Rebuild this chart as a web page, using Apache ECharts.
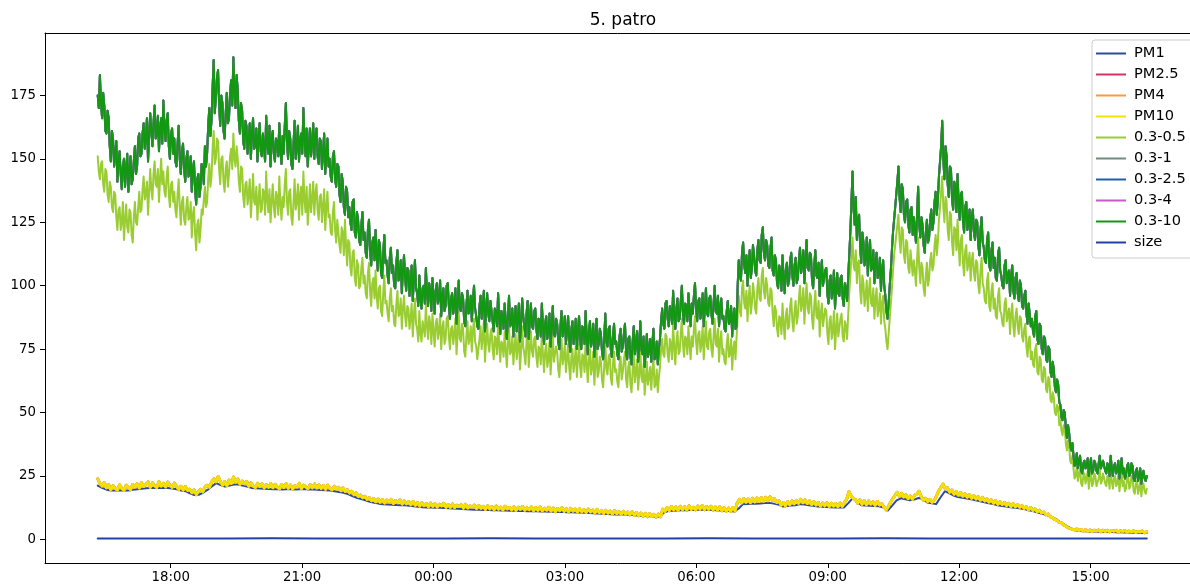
<!DOCTYPE html>
<html><head><meta charset="utf-8">
<script src="https://cdn.jsdelivr.net/npm/echarts@6/dist/echarts.min.js"></script>
<style>html,body{margin:0;padding:0;background:#fff}#c{width:1190px;height:586px}</style>
</head><body><div id="c"></div>
<script>
const chartTitle = '5. patro';
const seriesNames = ['PM1','PM2.5','PM4','PM10','0.3-0.5','0.3-1','0.3-2.5','0.3-4','0.3-10','size'];
// time span of the record, in hours counted from midnight of day 1
const startHour = 16 + 20/60;
const endHour = 40 + 17/60;
const xTickHours = [18,21,24,27,30,33,36,39];
const xTickLabels = ['18:00','21:00','00:00','03:00','06:00','09:00','12:00','15:00'];
const yTicks = [0,25,50,75,100,125,150,175];

const pc03_10 = [
175,170,183,172,166,176,171,161,160,169,166,155,149,161,158,147,152,157,141,149,153,144,138,147,150,139,146,152,137,145,151,140,142,149,155,144,147,158,160,151,
152,160,164,154,158,166,149,159,168,161,155,164,171,158,160,167,153,162,166,156,173,163,157,165,168,155,150,160,162,152,158,149,147,156,163,150,144,153,156,146,
141,150,153,143,145,151,137,146,149,138,132,142,144,135,139,148,146,140,155,147,152,163,170,159,165,178,189,168,174,182,185,171,163,175,172,161,158,168,176,164,
166,176,181,171,190,177,170,183,177,165,160,172,169,157,154,165,163,152,158,164,150,160,166,154,155,162,149,158,164,153,151,160,160,149,167,156,152,163,147,158,
161,152,149,158,157,151,164,153,148,159,152,163,172,157,150,161,158,148,146,156,165,150,155,163,149,157,160,152,170,158,151,162,147,155,162,151,156,164,150,159,
162,151,148,158,157,146,153,160,144,152,158,147,150,143,141,151,153,142,139,148,147,136,133,144,141,131,128,139,137,127,131,125,122,133,134,121,119,129,126,118,
116,124,129,118,121,113,111,122,126,114,108,117,119,110,122,112,106,118,116,105,103,113,120,109,110,104,101,111,115,105,108,100,99,109,114,102,104,110,97,106,
112,103,98,107,106,96,101,108,94,102,110,99,97,92,104,95,91,99,100,93,107,97,92,101,98,90,103,96,89,98,101,93,95,102,88,96,99,90,92,100,
101,92,87,95,97,89,93,99,85,93,102,91,90,97,95,86,84,92,98,89,91,96,86,94,100,91,88,84,83,92,96,87,92,98,82,90,97,89,86,94,
94,86,82,91,90,84,97,88,81,90,88,83,93,86,79,88,96,84,85,91,80,87,92,82,87,93,78,85,95,88,84,80,89,94,79,86,93,84,83,90,
91,83,79,87,86,80,93,84,77,85,88,79,82,89,76,84,92,81,80,87,85,78,75,84,90,80,83,88,77,82,88,79,74,83,86,77,81,87,75,82,
88,79,75,84,83,77,90,80,73,82,86,76,79,85,72,80,87,75,77,83,81,74,71,79,89,78,76,83,84,75,72,80,85,77,78,73,71,80,83,74,
76,81,85,74,71,79,80,72,69,78,84,73,77,82,70,76,86,75,73,80,68,74,81,72,75,79,70,77,83,71,72,78,69,75,79,86,91,85,83,93,
94,87,84,92,90,85,98,88,83,91,95,86,87,94,100,89,85,93,92,86,97,90,84,93,89,96,101,91,86,94,95,87,90,97,84,91,99,89,88,95,
96,89,85,93,100,90,89,96,84,91,95,87,88,83,82,90,94,85,86,92,80,88,91,83,84,100,110,104,102,113,117,108,105,112,100,109,114,103,107,116,
112,106,104,114,118,110,109,120,123,113,110,118,116,108,107,115,119,106,104,112,110,101,99,108,106,98,112,103,97,106,109,100,102,110,113,104,100,108,111,101,
103,110,115,105,108,114,101,110,118,107,106,113,112,102,99,108,114,104,103,109,96,105,110,100,100,106,107,97,93,102,104,95,98,106,91,99,105,97,96,103,
104,95,92,101,99,94,103,112,121,133,145,130,124,135,118,126,128,115,109,121,117,108,111,119,104,113,118,106,107,114,101,109,113,103,105,111,98,106,110,100,
96,90,87,93,100,106,114,121,126,131,136,141,147,135,129,140,138,128,125,133,134,124,121,130,131,120,127,122,117,128,139,124,119,127,124,116,113,121,126,117,
119,126,130,122,125,133,137,128,134,143,149,155,165,150,142,155,151,140,135,147,146,134,130,141,139,129,144,133,126,136,137,125,121,131,133,122,125,130,118,127,
130,121,118,126,125,116,112,122,127,117,115,110,109,118,121,108,106,114,117,107,111,103,102,112,115,106,104,100,99,108,110,101,101,106,96,104,108,98,95,103,
105,97,94,102,100,92,91,96,98,89,85,93,93,84,87,82,80,88,90,79,77,85,84,75,73,80,79,71,70,76,75,66,64,70,67,60,58,63,61,54,
53,48,47,51,50,44,40,45,42,37,35,38,33,29,30,34,28,31,33,27,26,30,31,28,29,32,25,29,32,26,27,31,30,27,26,30,33,28,28,31,
31,27,26,30,29,25,33,28,25,29,30,26,27,31,24,28,32,26,28,24,25,29,30,25,26,30,29,24,23,27,28,23,25,28,22,26,27,24,23,25
];
const pc03_05 = [
151,145,142,148,149,140,137,146,145,136,133,141,139,131,129,137,136,127,122,130,131,122,125,133,118,126,132,123,121,130,129,120,117,127,133,125,124,131,137,129,
130,138,143,134,136,141,128,137,146,138,134,144,149,140,139,146,133,142,150,140,145,137,135,143,147,136,131,140,141,133,137,130,127,136,142,131,124,133,135,126,
124,131,135,126,127,133,119,128,131,121,114,124,126,117,122,130,128,134,139,131,133,142,148,139,143,154,161,148,150,158,157,146,140,150,151,141,137,146,149,139,
144,151,154,146,160,150,147,155,150,141,137,147,146,135,131,140,141,132,136,142,127,135,144,133,132,139,126,134,140,129,130,138,137,128,145,134,129,138,125,133,
140,131,127,137,135,128,143,132,126,135,131,140,146,133,128,137,138,127,124,133,142,130,133,140,126,136,139,128,145,134,129,139,124,131,140,129,134,141,128,136,
140,130,126,135,136,125,131,138,122,131,137,127,128,121,120,129,133,122,117,126,126,116,113,123,121,112,126,116,108,118,117,107,104,113,114,103,100,110,108,99,
100,107,111,101,104,97,95,105,109,98,92,101,103,95,106,96,91,99,100,90,88,97,104,93,94,89,86,95,99,90,92,85,84,93,98,88,89,95,83,91,
96,88,84,92,91,83,87,93,80,88,95,85,83,78,90,81,78,86,86,80,93,84,79,88,85,77,89,82,76,85,87,79,82,89,75,83,86,77,79,87,
88,80,75,83,84,77,81,87,73,81,90,79,78,85,83,74,72,80,86,77,79,84,74,82,87,78,76,71,71,79,84,75,80,86,70,78,85,77,74,81,
83,75,71,80,79,73,85,77,70,78,77,72,82,75,68,77,84,73,74,80,69,76,81,71,76,82,67,74,84,76,73,69,78,83,68,75,82,74,72,79,
80,72,68,76,75,69,82,73,66,74,77,68,71,78,65,73,81,70,70,76,74,67,64,72,79,69,72,77,66,71,77,68,63,72,75,66,70,76,64,71,
77,68,64,73,72,66,79,69,62,71,75,65,68,74,61,69,76,64,66,72,70,63,60,68,78,67,65,72,73,64,61,69,74,66,67,62,60,69,72,63,
66,71,74,63,60,68,70,61,58,67,73,62,66,71,59,65,75,64,62,69,57,63,70,61,64,68,59,66,72,60,61,67,58,64,68,75,79,73,72,81,
80,73,70,79,77,71,85,76,69,78,82,73,74,81,87,77,72,80,79,73,84,77,71,80,76,83,88,78,73,81,82,74,77,84,71,79,86,76,75,82,
83,75,72,80,87,77,76,83,70,78,82,73,75,70,69,77,81,72,73,79,67,75,78,71,71,88,96,90,88,99,102,93,91,98,86,95,100,89,93,101,
97,91,89,99,103,95,94,104,107,98,95,103,100,93,92,99,98,89,84,92,90,83,80,88,87,81,93,85,79,88,91,83,84,92,95,86,82,90,94,85,
88,95,100,90,93,99,85,94,101,91,89,97,96,87,83,92,98,88,87,94,80,89,93,84,84,91,90,81,77,86,88,79,82,90,75,83,89,80,80,87,
89,80,78,86,84,79,88,97,104,112,119,108,106,114,101,109,110,98,93,104,101,92,96,102,90,98,103,93,92,99,87,95,99,88,91,97,85,93,96,86,
83,78,75,81,87,93,99,106,112,116,120,124,128,118,113,123,122,112,109,118,117,107,105,114,114,104,110,106,100,110,119,107,101,109,107,99,96,104,109,100,
103,110,113,106,108,116,120,112,117,126,131,137,143,131,125,135,133,122,118,129,128,117,112,123,122,114,126,116,108,118,120,109,104,114,116,106,109,113,102,110,
113,105,102,110,109,100,97,106,111,101,99,94,93,102,105,92,90,98,101,91,95,88,87,96,99,90,89,85,84,93,95,86,86,91,81,89,93,84,80,88,
91,84,81,88,87,80,78,83,85,76,72,79,80,71,74,69,68,75,77,66,65,72,71,63,62,68,67,59,58,64,63,55,54,58,56,50,49,53,52,45,
47,43,41,45,44,38,35,39,37,31,30,33,28,24,25,29,23,26,28,22,21,25,26,22,24,27,20,24,27,21,22,26,25,21,21,24,28,22,23,26,
26,22,21,25,24,20,28,23,20,24,25,21,22,26,19,23,27,21,23,19,20,24,25,20,21,25,24,19,18,22,23,18,20,23,17,21,22,19,18,20
];
// the 0.3-1, 0.3-2.5 and 0.3-4 counts lie under the 0.3-10 line in the picture
const pc03_1 = pc03_10;
const pc03_25 = pc03_10;
const pc03_4 = pc03_10;

const pm10 = [
23.9,22.1,21.0,22.4,20.3,21.6,19.5,21.2,20.0,19.4,21.5,20.1,19.3,21.4,20.4,19.6,21.7,20.6,21.9,20.2,
22.4,20.8,21.6,22.7,20.5,22.3,21.2,20.4,22.8,21.0,22.1,20.6,22.6,21.3,20.5,22.2,20.9,19.6,21.0,19.4,
20.9,19.3,19.8,18.4,19.5,17.6,18.9,19.8,18.7,20.6,21.4,20.5,22.6,23.9,22.7,24.8,22.9,21.3,22.8,21.1,
23.4,22.0,24.6,22.5,23.8,21.7,23.0,21.9,22.8,20.9,22.3,21.0,20.4,22.1,20.8,21.9,20.2,21.6,20.5,22.0,
20.3,21.8,20.6,19.9,21.7,20.4,22.0,20.1,21.5,19.8,21.2,20.6,22.1,20.0,21.4,20.7,19.9,21.6,20.3,21.9,
20.2,21.5,20.0,21.3,19.7,21.4,20.1,19.5,21.0,19.8,20.6,19.2,20.3,18.9,19.6,18.3,19.0,17.6,18.4,16.9,
17.5,16.4,17.0,15.8,16.5,15.2,16.1,14.8,15.9,14.6,15.7,14.3,15.5,14.7,15.8,14.1,15.3,14.4,15.6,13.9,
15.2,14.0,14.9,13.6,15.0,13.4,14.6,13.1,14.5,13.3,14.2,12.8,14.4,13.0,14.1,12.7,13.9,13.2,14.3,12.6,
13.8,12.6,14.0,12.5,13.5,12.9,13.7,12.3,13.9,12.4,13.2,12.7,13.6,12.1,13.4,12.2,13.1,11.8,13.3,12.0,
13.0,11.7,13.2,11.9,12.8,11.5,13.1,12.0,12.6,11.6,12.9,11.4,12.7,11.8,13.0,11.5,12.5,11.7,12.8,11.3,
12.6,11.4,12.8,11.2,12.3,11.5,12.7,11.1,12.4,10.9,12.2,11.3,12.5,11.0,12.1,10.8,12.3,11.1,12.0,10.7,
12.1,10.9,11.8,10.6,12.0,10.8,11.6,10.4,11.9,10.5,11.3,10.2,11.5,10.3,11.2,9.9,11.4,10.1,11.0,9.8,
11.1,9.9,10.8,9.7,10.9,9.5,10.6,9.3,10.4,9.1,10.3,8.9,10.2,9.0,9.9,8.8,10.0,8.9,11.9,11.0,
12.6,11.3,13.0,11.6,12.8,11.4,13.1,11.7,12.9,11.5,13.3,11.8,12.7,11.6,13.2,11.9,13.4,11.7,13.0,11.8,
13.1,11.6,12.8,11.5,12.9,11.3,12.5,11.1,12.4,11.0,12.6,11.2,14.4,15.8,14.3,16.1,14.6,15.9,14.4,16.2,
14.7,16.3,14.9,16.5,15.0,16.6,15.2,16.8,15.4,16.1,14.5,15.3,13.4,14.6,13.2,14.9,13.6,15.2,14.0,15.4,
14.2,15.8,14.4,15.6,14.1,15.2,13.7,14.9,13.5,14.6,13.0,14.4,13.2,14.5,12.9,14.3,13.1,14.2,12.8,14.4,
13.0,14.6,15.9,18.8,17.2,16.1,15.7,14.2,15.6,13.8,15.3,13.6,15.2,13.9,14.8,13.4,15.0,13.5,14.1,12.7,
11.6,12.9,14.6,16.0,17.3,18.6,17.0,18.2,16.7,17.6,16.0,17.1,15.8,17.4,17.9,19.0,16.8,15.4,16.2,14.9,
15.8,14.6,15.5,17.2,19.1,20.6,21.8,19.9,20.4,18.6,19.5,17.8,18.9,17.4,18.5,17.0,18.0,16.6,17.7,16.2,
17.3,15.9,16.9,15.4,16.6,15.1,16.0,14.7,15.6,14.2,15.3,13.8,14.9,13.7,14.6,13.3,14.3,12.9,14.1,12.8,
13.7,12.6,13.3,12.2,12.9,11.6,12.6,11.4,12.0,10.9,11.5,10.4,10.8,9.7,10.0,8.9,8.6,7.8,7.6,6.7,
6.6,5.7,5.3,4.6,4.3,4.0,3.7,4.1,3.5,3.9,3.3,3.8,3.2,3.7,3.1,3.6,3.3,3.7,3.0,3.6,
3.1,3.6,3.0,3.5,3.2,3.6,2.9,3.4,3.1,3.5,2.8,3.3,3.0,3.4,2.7,3.2,2.9,3.3,2.6,3.0
];
// PM2.5 and PM4 lie under the PM10 line in the picture
const pm25 = pm10;
const pm4 = pm10;
const pm1 = [
21.2,20.3,19.6,19.3,19.3,19.4,19.3,19.3,19.6,19.8,
20.0,20.2,20.3,20.3,20.4,20.3,20.3,20.1,19.8,19.3,
19.0,18.2,17.5,17.6,18.4,19.5,20.9,22.2,21.4,20.8,
21.2,21.6,21.6,21.2,20.8,20.3,20.2,20.1,20.0,19.9,
19.8,19.9,19.7,19.8,19.9,19.7,19.8,19.9,19.7,19.8,
19.6,19.5,19.4,19.3,19.0,18.7,18.4,17.9,17.1,16.4,
15.9,15.4,14.8,14.4,14.1,13.9,13.8,13.7,13.6,13.5,
13.5,13.3,13.1,12.9,12.7,12.6,12.6,12.5,12.5,12.4,
12.3,12.2,12.1,12.0,11.9,11.8,11.7,11.7,11.6,11.6,
11.5,11.5,11.4,11.4,11.3,11.3,11.2,11.2,11.1,11.1,
11.1,11.0,11.0,10.9,10.9,10.8,10.8,10.7,10.7,10.6,
10.6,10.5,10.4,10.3,10.2,10.1,10.0,9.9,9.8,9.8,
9.8,9.7,9.6,9.4,9.3,9.2,9.1,9.0,8.9,10.6,
11.2,11.3,11.4,11.5,11.5,11.6,11.6,11.7,11.7,11.7,
11.6,11.5,11.4,11.3,11.2,11.0,12.1,13.9,14.0,14.1,
14.1,14.2,14.3,14.4,14.1,13.8,13.0,13.2,13.4,13.5,
13.9,13.8,13.5,13.3,13.0,12.9,12.8,12.7,12.6,12.6,
12.6,14.3,16.3,14.9,13.5,13.4,13.3,13.2,13.1,12.6,
11.4,13.3,15.4,16.2,15.8,15.4,15.7,16.3,16.0,14.5,
14.2,13.9,16.5,19.0,18.2,17.3,16.7,16.4,16.1,15.8,
15.4,15.0,14.6,14.2,13.9,13.5,13.2,13.0,12.7,12.5,
12.3,12.0,11.6,11.2,10.7,10.2,9.7,9.1,8.3,7.1,
6.0,5.0,4.1,3.5,3.3,3.2,3.1,3.1,3.0,2.9,
2.9,2.9,2.8,2.8,2.7,2.7,2.6,2.6,2.5,2.5
];
const sizeVals = [0.40,0.35,0.40,0.38,0.42,0.36,0.40,0.39,0.37,0.41,0.38,0.40,0.36,0.39,0.42,0.37,0.40,0.38,0.41,0.36,0.39,0.40,0.37,0.40,0.38];

const seriesValues = [pm1, pm25, pm4, pm10, pc03_05, pc03_1, pc03_25, pc03_4, pc03_10, sizeVals];
const seriesColors = ['#2c4b9b','#dc2f63','#fb9a3a','#f2e200','#9acd32','#6f8c7c','#1f60a8','#c75bc7','#129812','#2141a6'];
const seriesWidths = [2, 2.8, 2.8, 2.8, 2, 2, 2, 2, 2, 2];

function withTime(vals) {
  const n = vals.length, step = (endHour - startHour) / (n - 1);
  return vals.map((v, i) => [startHour + i * step, v]);
}

const FONT = 'DejaVu Sans';
const chart = echarts.init(document.getElementById('c'), null, {renderer: 'canvas'});
const xCommon = {type: 'value', min: 15.13, max: 41.27, splitLine: {show: false}};
chart.setOption({
  animation: false,
  backgroundColor: '#fff',
  title: {
    text: chartTitle, left: 623, top: 12, padding: 0, textAlign: 'center',
    textStyle: {fontFamily: FONT, fontSize: 17, fontWeight: 'normal', color: '#000'}
  },
  legend: {
    left: 1092, top: 40, orient: 'vertical',
    data: seriesNames,
    icon: 'path://M0,0H30V2H0Z',
    itemWidth: 30, itemHeight: 14, itemGap: 6,
    padding: [6, 24, 8, 4],
    backgroundColor: '#fff', borderColor: '#cccccc', borderWidth: 1, borderRadius: 3,
    textStyle: {fontFamily: FONT, fontSize: 14.6, color: '#000', lineHeight: 14, padding: [0,0,0,3]}
  },
  grid: {left: 45, right: 0, top: 33, bottom: 23},
  xAxis: [
    Object.assign({}, xCommon, {
      position: 'bottom',
      axisLine: {show: true, onZero: false, lineStyle: {color: '#000', width: 1}},
      axisTick: {show: true, inside: false, length: 5, lineStyle: {color: '#000'}, customValues: xTickHours},
      axisLabel: {
        customValues: xTickHours, margin: 8, fontFamily: FONT, fontSize: 13.3, color: '#000',
        formatter: v => xTickLabels[xTickHours.indexOf(Math.round(v))]
      }
    }),
    Object.assign({}, xCommon, {
      position: 'top',
      axisLine: {show: true, onZero: false, lineStyle: {color: '#000', width: 1}},
      axisTick: {show: false}, axisLabel: {show: false}
    })
  ],
  yAxis: {
    type: 'value', min: -9.3, max: 199.6,
    splitLine: {show: false},
    axisLine: {show: true, onZero: false, lineStyle: {color: '#000', width: 1}},
    axisTick: {show: true, inside: false, length: 5, lineStyle: {color: '#000'}, customValues: yTicks},
    axisLabel: {customValues: yTicks, margin: 9, fontFamily: FONT, fontSize: 13.3, color: '#000'}
  },
  series: seriesNames.map((name, k) => ({
    name: name, type: 'line', xAxisIndex: 0,
    data: withTime(seriesValues[k]),
    symbol: 'none', showSymbol: false,
    color: seriesColors[k],
    lineStyle: {color: seriesColors[k], width: seriesWidths[k], join: 'round', cap: 'round'},
    emphasis: {disabled: true}
  }))
});
</script></body></html>
